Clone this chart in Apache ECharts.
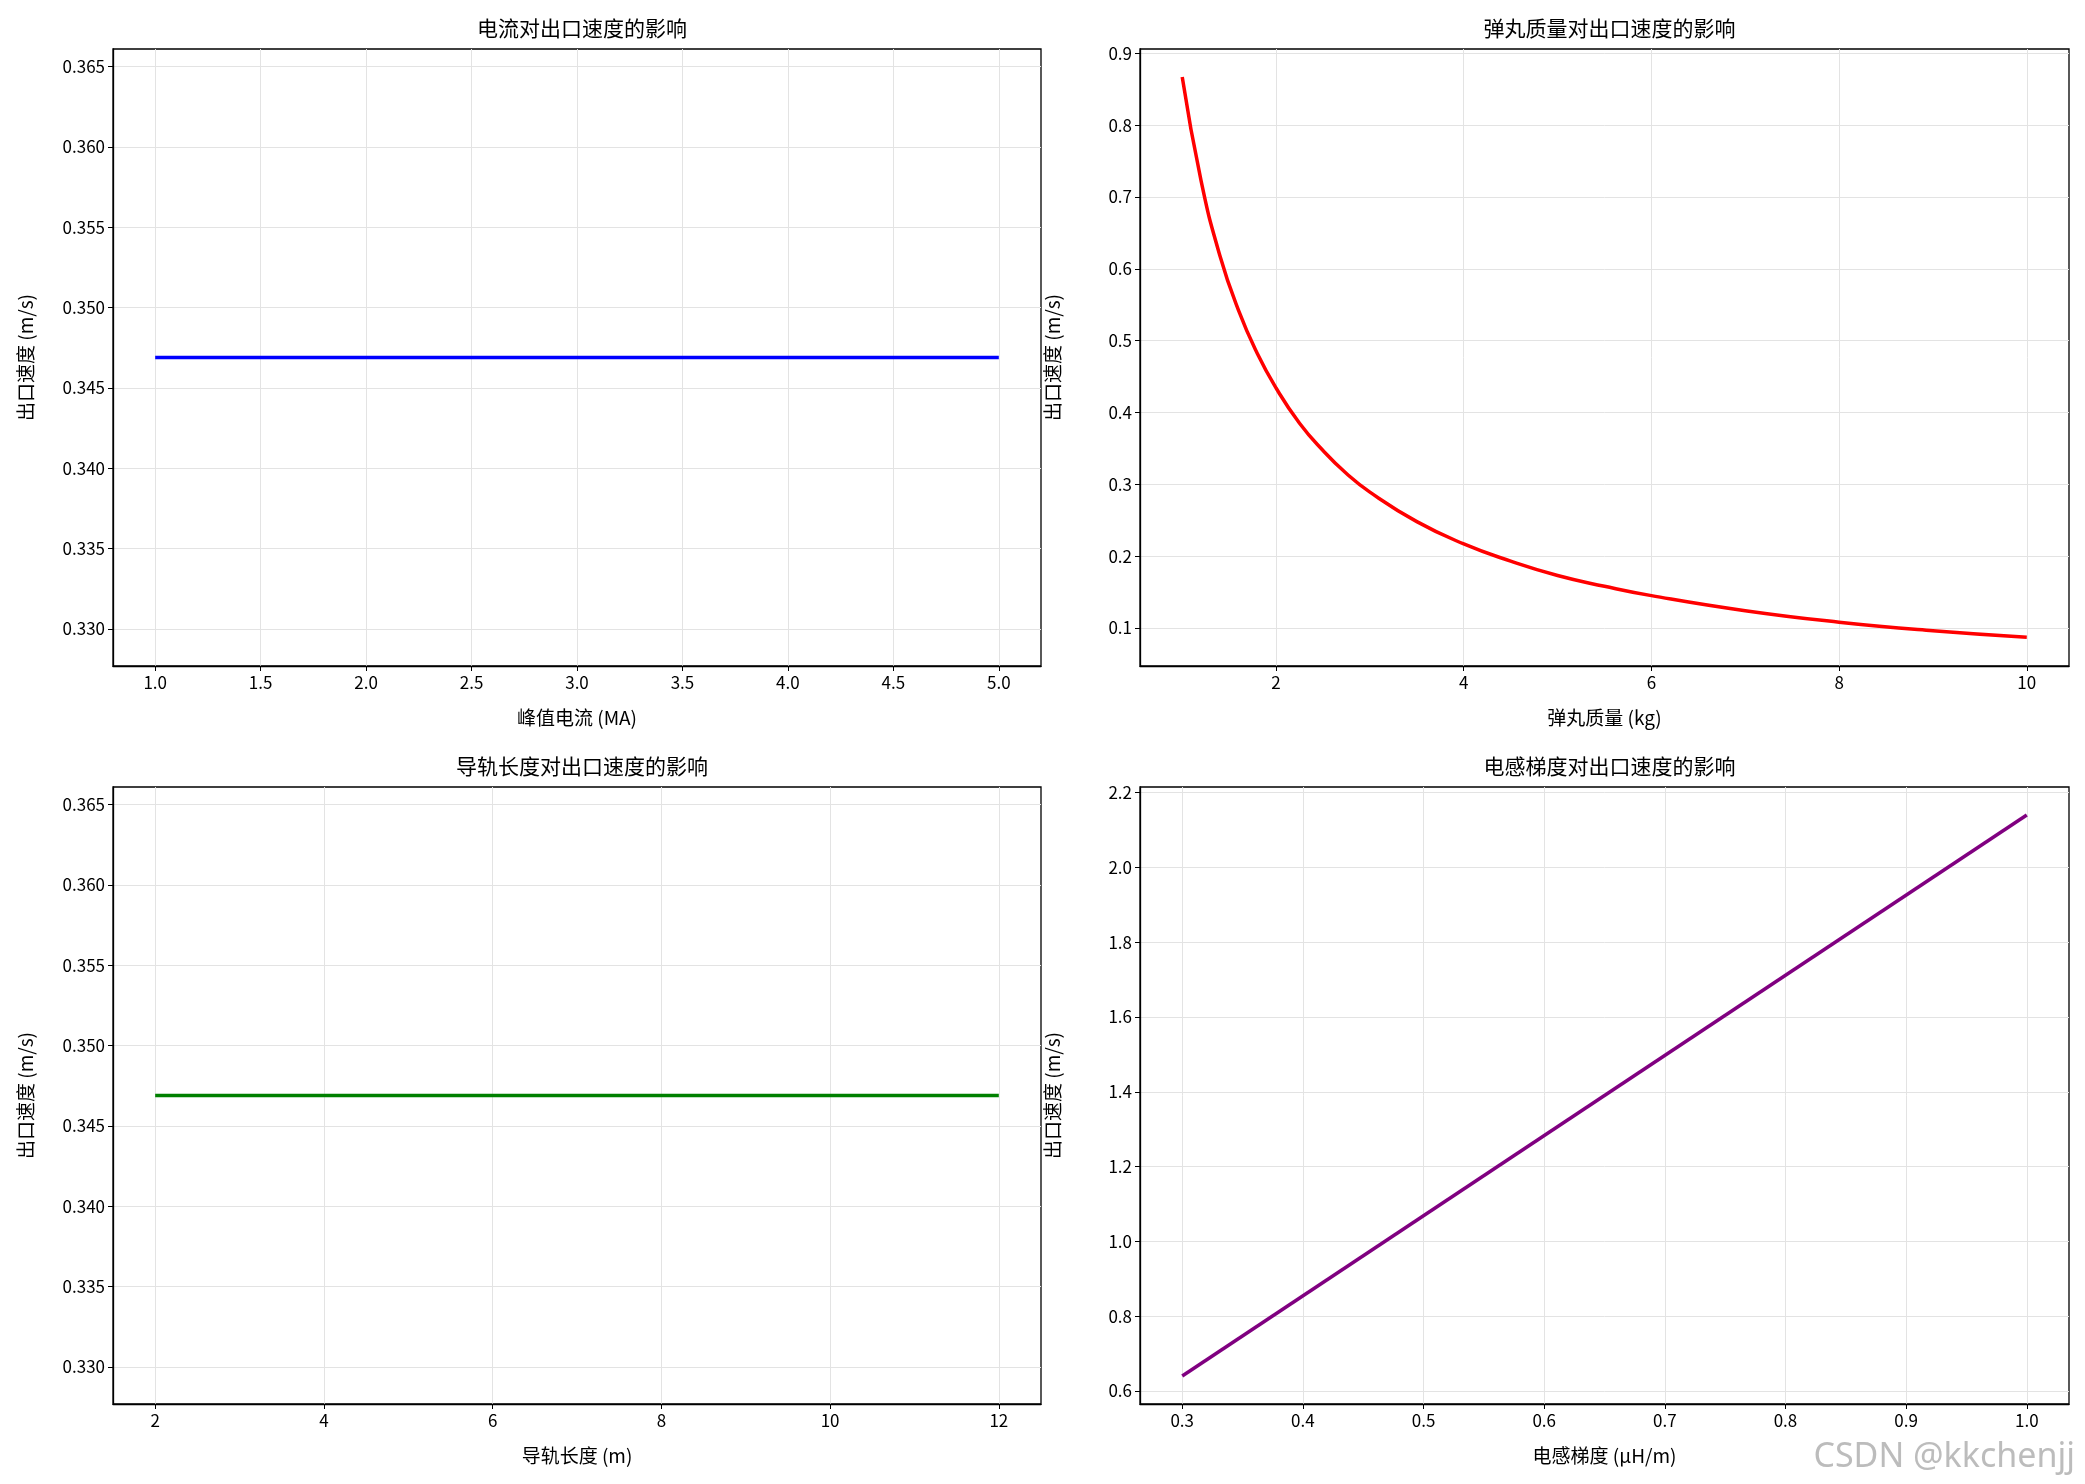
<!DOCTYPE html>
<html lang="zh-CN">
<head>
<meta charset="UTF-8">
<title>参数对出口速度的影响</title>
<script src="https://cdn.jsdelivr.net/npm/echarts@6/dist/echarts.min.js"></script>
<style>
  body { margin: 0; background: #fff; }
  #chart { width: 2085px; height: 1484px; }
</style>
</head>
<body>
<div id="chart"></div>
<script>
// 电流
const currentX = [1.0, 5.0];
const currentV = [0.3469, 0.3469];
const currentTicksY = [0.330, 0.335, 0.340, 0.345, 0.350, 0.355, 0.360, 0.365];
const currentTicksX = [1.0, 1.5, 2.0, 2.5, 3.0, 3.5, 4.0, 4.5, 5.0];
// 弹丸质量
const massX = [1, 1.2, 1.4, 1.6, 1.8, 2, 2.25, 2.5, 2.75, 3, 3.5, 4, 4.5, 5, 5.5, 6, 7, 8, 9, 10];
const massV = [0.867, 0.723, 0.619, 0.542, 0.482, 0.434, 0.385, 0.347, 0.315, 0.289, 0.248, 0.217, 0.193, 0.173, 0.158, 0.145, 0.124, 0.108, 0.096, 0.087];
const massTicksY = [0.1, 0.2, 0.3, 0.4, 0.5, 0.6, 0.7, 0.8, 0.9];
const massTicksX = [2, 4, 6, 8, 10];
// 导轨长度
const railX = [2, 12];
const railV = [0.3469, 0.3469];
const railTicksX = [2, 4, 6, 8, 10, 12];
// 电感梯度
const gradX = [0.3, 1.0];
const gradV = [0.64, 2.14];
const gradTicksY = [0.6, 0.8, 1.0, 1.2, 1.4, 1.6, 1.8, 2.0, 2.2];
const gradTicksX = [0.3, 0.4, 0.5, 0.6, 0.7, 0.8, 0.9, 1.0];

const font = '"Noto Sans CJK SC", sans-serif';
const grids = [
  { left: 113, right: 1044, top: 49, bottom: 818 },
  { left: 1140, right: 16, top: 49, bottom: 818 },
  { left: 113, right: 1044, top: 787, bottom: 80 },
  { left: 1140, right: 16, top: 787, bottom: 80 }
];

function axis(i, min, max, ticks, digits, name, isY) {
  return {
    type: 'value', gridIndex: i, min: min, max: max,
    name: name, nameLocation: 'middle', nameGap: isY ? 78 : 42,
    nameTextStyle: { fontFamily: font, fontSize: 19, color: '#000' },
    axisLine: { show: true, onZero: false, lineStyle: { color: '#000', width: 1.3 } },
    axisTick: { show: true, customValues: ticks, length: 5, lineStyle: { color: '#000' } },
    axisLabel: { customValues: ticks, fontFamily: font, fontSize: 17, color: '#000',
      formatter: v => v.toFixed(digits) },
    splitLine: { show: true, lineStyle: { color: '#e3e3e3', width: 1 } }
  };
}

const pairs = (xs, ys) => xs.map((x, k) => [x, ys[k]]);
const yName = '出口速度 (m/s)';

const option = {
  backgroundColor: '#fff',
  animation: false,
  title: [
    ['电流对出口速度的影响', 0], ['弹丸质量对出口速度的影响', 1],
    ['导轨长度对出口速度的影响', 2], ['电感梯度对出口速度的影响', 3]
  ].map(([t, i]) => ({
    text: t, left: (grids[i].left + (2085 - grids[i].right)) / 2, textAlign: 'center',
    top: grids[i].top - 36,
    textStyle: { fontFamily: font, fontSize: 21, fontWeight: 'normal', color: '#000' }
  })),
  grid: grids.map(g => Object.assign({ show: true, borderColor: '#000', borderWidth: 1.3 }, g)),
  xAxis: [
    axis(0, 0.8, 5.2, currentTicksX, 1, '峰值电流 (MA)', false),
    axis(1, 0.55, 10.45, massTicksX, 0, '弹丸质量 (kg)', false),
    axis(2, 1.5, 12.5, railTicksX, 0, '导轨长度 (m)', false),
    axis(3, 0.265, 1.035, gradTicksX, 1, '电感梯度 (μH/m)', false)
  ],
  yAxis: [
    axis(0, 0.3277, 0.3661, currentTicksY, 3, yName, true),
    axis(1, 0.047, 0.906, massTicksY, 1, yName, true),
    axis(2, 0.3277, 0.3661, currentTicksY, 3, yName, true),
    axis(3, 0.565, 2.215, gradTicksY, 1, yName, true)
  ],
  series: [
    { data: pairs(currentX, currentV), color: '#0000ff', i: 0 },
    { data: pairs(massX, massV), color: '#ff0000', i: 1, smooth: true },
    { data: pairs(railX, railV), color: '#008000', i: 2 },
    { data: pairs(gradX, gradV), color: '#800080', i: 3 }
  ].map(s => ({
    type: 'line', xAxisIndex: s.i, yAxisIndex: s.i, data: s.data, smooth: !!s.smooth,
    showSymbol: false, lineStyle: { color: s.color, width: 3.5 }
  })),
  graphic: [{
    type: 'text', right: 10, bottom: 10,
    style: { text: 'CSDN @kkchenjj', font: '34px "Noto Sans", sans-serif', fill: 'rgba(160,160,160,0.7)' }
  }]
};

echarts.init(document.getElementById('chart')).setOption(option);
</script>
</body>
</html>
